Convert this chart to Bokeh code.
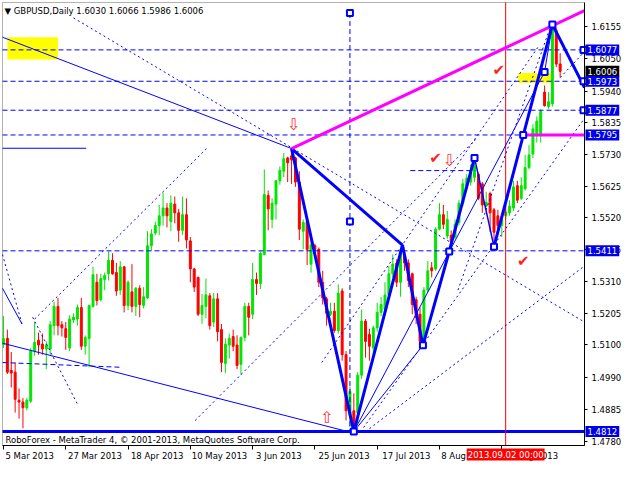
from bokeh.plotting import figure
from bokeh.models import (Range1d, LinearAxis, FixedTicker, Label, BoxAnnotation,
                          ColumnDataSource, PrintfTickFormatter)
from bokeh.embed import file_html
from bokeh.resources import INLINE
from bokeh.core.properties import value

FONT = "DejaVu Sans"

# ---------------- data (bar index = trading day from 5 Mar 2013) ----------------
opens = [1.5100,1.5121,1.5015,1.5009,1.4916,1.4910,1.4891,1.4913,1.5079,1.5115,
1.5102,1.5086,1.5086,1.5163,1.5227,1.5166,1.5153,1.5089,1.5182,1.5185,
1.5223,1.5095,1.5121,1.5227,1.5307,1.5249,1.5316,1.5335,1.5380,1.5339,
1.5281,1.5358,1.5230,1.5275,1.5227,1.5287,1.5230,1.5255,1.5428,1.5470,
1.5495,1.5527,1.5553,1.5508,1.5566,1.5537,1.5479,1.5531,1.5444,1.5351,
1.5323,1.5201,1.5227,1.5262,1.5175,1.5252,1.5150,1.5038,1.5099,1.5127,
1.5099,1.5035,1.5124,1.5227,1.5201,1.5316,1.5303,1.5399,1.5595,1.5515,
1.5566,1.5643,1.5675,1.5719,1.5726,1.5719,1.5639,1.5476,1.5508,1.5367,
1.5428,1.5416,1.5307,1.5252,1.5201,1.5211,1.5147,1.5278,1.5067,1.4865,
1.4881,1.4875,1.4999,1.5178,1.5134,1.5089,1.5156,1.5207,1.5217,1.5265,
1.5335,1.5371,1.5307,1.5399,1.5371,1.5335,1.5249,1.5201,1.5111,1.5281,
1.5355,1.5351,1.5483,1.5531,1.5460,1.5463,1.5457,1.5505,1.5569,1.5627,
1.5639,1.5655,1.5665,1.5633,1.5559,1.5601,1.5547,1.5527,1.5495,1.5527,
1.5537,1.5553,1.5627,1.5585,1.5617,1.5687,1.5732,1.5799,1.5799,1.5937,
1.5889,1.5898,1.6141,1.6030]
highs = [1.5195,1.5150,1.5076,1.5041,1.4955,1.4923,1.4923,1.5089,1.5175,1.5140,
1.5137,1.5111,1.5178,1.5243,1.5255,1.5178,1.5175,1.5198,1.5204,1.5233,
1.5255,1.5131,1.5233,1.5358,1.5335,1.5335,1.5339,1.5409,1.5403,1.5371,
1.5377,1.5361,1.5313,1.5367,1.5291,1.5297,1.5291,1.5476,1.5483,1.5508,
1.5563,1.5604,1.5569,1.5595,1.5591,1.5550,1.5591,1.5585,1.5457,1.5355,
1.5326,1.5268,1.5319,1.5271,1.5271,1.5271,1.5169,1.5121,1.5137,1.5150,
1.5131,1.5127,1.5239,1.5239,1.5371,1.5339,1.5409,1.5681,1.5611,1.5585,
1.5646,1.5691,1.5735,1.5723,1.5750,1.5723,1.5675,1.5515,1.5511,1.5463,
1.5435,1.5422,1.5345,1.5259,1.5239,1.5239,1.5300,1.5287,1.5079,1.4961,
1.4939,1.5009,1.5217,1.5185,1.5153,1.5163,1.5239,1.5259,1.5307,1.5361,
1.5399,1.5383,1.5422,1.5409,1.5383,1.5339,1.5259,1.5223,1.5291,1.5377,
1.5374,1.5489,1.5569,1.5563,1.5543,1.5479,1.5515,1.5579,1.5649,1.5665,
1.5697,1.5719,1.5670,1.5639,1.5607,1.5607,1.5553,1.5547,1.5527,1.5563,
1.5579,1.5643,1.5643,1.5655,1.5729,1.5761,1.5831,1.5857,1.5879,1.5959,
1.5937,1.6161,1.6151,1.6066]
lows = [1.5089,1.5003,1.4958,1.4875,1.4855,1.4823,1.4882,1.4907,1.5063,1.5067,
1.5067,1.5019,1.5067,1.5131,1.5131,1.5127,1.5083,1.5079,1.5172,1.5163,
1.5083,1.5067,1.5025,1.5223,1.5230,1.5243,1.5281,1.5313,1.5332,1.5262,
1.5265,1.5207,1.5214,1.5207,1.5195,1.5191,1.5220,1.5252,1.5412,1.5463,
1.5463,1.5495,1.5489,1.5476,1.5502,1.5441,1.5463,1.5419,1.5307,1.5275,
1.5195,1.5169,1.5188,1.5150,1.5159,1.5111,1.5009,1.5006,1.5054,1.5079,
1.5019,1.5000,1.5111,1.5131,1.5185,1.5265,1.5284,1.5396,1.5479,1.5486,
1.5515,1.5630,1.5655,1.5639,1.5633,1.5623,1.5447,1.5416,1.5364,1.5339,
1.5387,1.5291,1.5233,1.5163,1.5195,1.5140,1.5137,1.5047,1.4849,1.4827,
1.4812,1.4840,1.4987,1.5057,1.5047,1.5067,1.5143,1.5195,1.5201,1.5255,
1.5323,1.5291,1.5259,1.5345,1.5291,1.5201,1.5169,1.5105,1.5095,1.5275,
1.5323,1.5345,1.5479,1.5483,1.5451,1.5431,1.5451,1.5495,1.5559,1.5617,
1.5627,1.5639,1.5579,1.5537,1.5556,1.5473,1.5425,1.5473,1.5457,1.5515,
1.5527,1.5543,1.5569,1.5579,1.5611,1.5681,1.5719,1.5770,1.5770,1.5889,
1.5882,1.5889,1.6020,1.5986]
closes = [1.5120,1.5009,1.5006,1.4919,1.4910,1.4891,1.4916,1.5079,1.5108,1.5099,
1.5086,1.5099,1.5166,1.5227,1.5163,1.5156,1.5124,1.5185,1.5191,1.5223,
1.5095,1.5124,1.5230,1.5332,1.5246,1.5319,1.5329,1.5380,1.5335,1.5278,
1.5358,1.5230,1.5307,1.5227,1.5287,1.5233,1.5259,1.5428,1.5467,1.5495,
1.5527,1.5553,1.5527,1.5569,1.5537,1.5479,1.5531,1.5447,1.5351,1.5291,
1.5201,1.5230,1.5265,1.5163,1.5252,1.5143,1.5041,1.5102,1.5121,1.5095,
1.5031,1.5124,1.5227,1.5191,1.5316,1.5303,1.5403,1.5598,1.5550,1.5569,
1.5643,1.5678,1.5716,1.5703,1.5713,1.5639,1.5483,1.5505,1.5416,1.5431,
1.5416,1.5307,1.5255,1.5204,1.5211,1.5147,1.5271,1.5067,1.4881,1.4945,
1.4835,1.4999,1.5178,1.5111,1.5095,1.5156,1.5207,1.5233,1.5265,1.5335,
1.5367,1.5307,1.5409,1.5371,1.5313,1.5233,1.5191,1.5111,1.5281,1.5345,
1.5345,1.5483,1.5531,1.5499,1.5515,1.5441,1.5499,1.5569,1.5633,1.5652,
1.5675,1.5691,1.5585,1.5563,1.5572,1.5537,1.5473,1.5495,1.5515,1.5540,
1.5559,1.5623,1.5579,1.5627,1.5687,1.5729,1.5815,1.5841,1.5873,1.5892,
1.5905,1.6148,1.6030,1.6006]

date_ticks = [0, 16, 32, 48, 64, 80, 96, 112, 128]
date_labels = ["5 Mar 2013", "27 Mar 2013", "18 Apr 2013", "10 May 2013", "3 Jun 2013",
               "25 Jun 2013", "17 Jul 2013", "8 Aug 2013", "30 Aug 2013"]
price_ticks = [1.6155, 1.6050, 1.5940, 1.5835, 1.5730, 1.5625, 1.5520, 1.5415,
               1.5310, 1.5205, 1.5100, 1.4990, 1.4885, 1.4780]

title_text = "GBPUSD,Daily  1.6030 1.6066 1.5986 1.6006"
copyright_text = "RoboForex - MetaTrader 4, \u00a9 2001-2013, MetaQuotes Software Corp."

# analyst objects
level_prices = [1.6077, 1.5973, 1.5877, 1.5795, 1.5411]
support_price = 1.4812
marker_date = 129          # 2013.09.02 00:00
marker_date_text = "2013.09.02 00:00"
axis_tags = [(1.6077, "#0000e6"), (1.6006, "#000000"), (1.5973, "#0000e6"),
             (1.5877, "#0000e6"), (1.5795, "#0000e6"), (1.5411, "#0000e6"),
             (1.4812, "#0000e6")]

wave_x = [74, 90, 102.5, 107.75, 114.5, 121]
wave_y = [1.5750, 1.4812, 1.5430, 1.5098, 1.5409, 1.5719]
thick_x0 = [74, 126, 141]
thick_y0 = [1.5750, 1.5425, 1.6161]
thick_x1 = [102.5, 141, 149.25]
thick_y1 = [1.5430, 1.6161, 1.5952]

thin_x0 = [-0.25, 90, 90, 139, -0.25, -0.25, -0.25]
thin_y0 = [1.6119, 1.4812, 1.4812, 1.6004, 1.5105, 1.5751, 1.5287]
thin_x1 = [74, 107.75, 139, 141, 88.5, 21.25, 4.75]
thin_y1 = [1.5750, 1.5098, 1.6004, 1.6161, 1.4812, 1.5751, 1.5169]

dot_x0 = [18, 8, 49.25, 116.75, 91.75, 81.75, 93, 143, -0.25, 7.5]
dot_y0 = [1.6183, 1.5185, 1.4849, 1.5281, 1.4812, 1.5041, 1.4812, 1.5985, 1.5399, 1.5191]
dot_x1 = [149.25, 52.25, 121.75, 140.5, 149.25, 137.5, 149.25, 149.25, 4.75, 19.25]
dot_y1 = [1.5175, 1.5751, 1.5786, 1.6154, 1.5850, 1.6090, 1.5361, 1.6071, 1.5169, 1.4897]

dash_x0 = [-0.25, 104.5, 89]
dash_y0 = [1.5041, 1.5677, 1.6199]
dash_x1 = [30.5, 121, 89]
dash_y1 = [1.5025, 1.5677, 1.4812]

box_x = [90, 107.75, 114.5, 121, 126, 133.5, 139, 141, 89, 89, 149, 149, 149]
box_y = [1.4812, 1.5098, 1.5409, 1.5719, 1.5425, 1.5795, 1.6004, 1.6161, 1.6199, 1.5508,
         1.6077, 1.5973, 1.5877]

zone_left = [1, 132.25]
zone_right = [14, 140.75]
zone_top = [1.6119, 1.6000]
zone_bottom = [1.6045, 1.5968]

mag_x0 = [74, 133.5]
mag_y0 = [1.5750, 1.5795]
mag_x1 = [149.25, 149.25]
mag_y1 = [1.6207, 1.5795]

check_x = [127.25, 111, 133.5]
check_y = [1.6010, 1.5718, 1.5377]
arrow_x = [74.5, 114.5, 83]
arrow_y = [1.5831, 1.5709, 1.4858]
arrow_t = ["\u21e9", "\u21e9", "\u21e7"]

# ---------------- geometry ----------------
X0, X1 = -0.25, 149.25          # chart window (bars)
Y0, Y1 = 1.4766, 1.6234         # chart window (price)
W, H = 624, 464
PX_X = 582 / (X1 - X0)          # px per bar
PX_Y = 443 / (Y1 - Y0)          # px per price unit

p = figure(width=W, height=H,
           x_range=Range1d(X0 - 2 / PX_X, X0 - 2 / PX_X + W / PX_X),
           y_range=Range1d(Y0 - 19 / PX_Y, Y1 + 2 / PX_Y),
           output_backend="svg", toolbar_location=None,
           x_axis_location=None, y_axis_location=None,
           min_border_left=0, min_border_top=0, min_border_right=0,
           min_border_bottom=0, background_fill_color="white",
           border_fill_color="white")
p.outline_line_color = None
p.grid.grid_line_color = None

label_pos = [t + (len(l) * 4.9 / 2 + 2) / PX_X for t, l in zip(date_ticks, date_labels)]
label_pos = [round(v * 4) / 4 for v in label_pos]
xaxis = LinearAxis(ticker=FixedTicker(ticks=label_pos, minor_ticks=date_ticks),
                   major_label_overrides={t: l for t, l in zip(label_pos, date_labels)},
                   fixed_location=Y0, bounds=(X0, X1),
                   major_tick_line_color=None, major_tick_in=0, major_tick_out=4,
                   minor_tick_in=0, minor_tick_out=4, minor_tick_line_color="black",
                   axis_line_color="black",
                   major_label_text_font=FONT, major_label_text_font_size="8.5px",
                   major_label_text_color="black", major_label_standoff=1)
p.add_layout(xaxis, "below")

yaxis = LinearAxis(ticker=FixedTicker(ticks=price_ticks),
                   formatter=PrintfTickFormatter(format="%.4f"),
                   fixed_location=X1, bounds=(Y0, Y1),
                   major_tick_in=0, major_tick_out=3, minor_tick_line_color=None,
                   axis_line_color="black", major_tick_line_color="black",
                   major_label_text_font=FONT, major_label_text_font_size="8.5px",
                   major_label_text_color="black", major_label_standoff=4)
p.add_layout(yaxis, "right")

p.add_layout(BoxAnnotation(left=X0, right=X1, bottom=Y0, top=Y1, fill_color=None,
                           line_color="black", line_width=1, level="underlay"))

# yellow zones (background)
p.quad(left=zone_left, right=zone_right, top=zone_top, bottom=zone_bottom,
       fill_color="#ffff00", line_color=None)

# candles
n = len(opens)
idx = list(range(n))
col = ["#00e600" if c >= o else "#ff0000" for o, c in zip(opens, closes)]
src = ColumnDataSource(dict(x=idx, o=opens, h=highs, l=lows, c=closes,
                            top=[max(o, c) for o, c in zip(opens, closes)],
                            bot=[min(o, c) for o, c in zip(opens, closes)], col=col))
p.segment(x0="x", y0="l", x1="x", y1="h", line_color="col", line_width=1, source=src)
p.vbar(x="x", width=0.5, top="top", bottom="bot", fill_color="col", line_color="col",
       line_width=1, source=src)

# level lines
p.segment(x0=[X0] * len(level_prices), y0=level_prices, x1=[X1] * len(level_prices),
          y1=level_prices, line_color="#0000ff", line_dash="5 3", line_width=1)
p.segment(x0=[X0], y0=[support_price], x1=[X1], y1=[support_price],
          line_color="#0000ff", line_width=3)
p.segment(x0=[marker_date], y0=[Y0], x1=[marker_date], y1=[Y1],
          line_color="#ff0000", line_width=1)

# trend lines
p.segment(x0=dot_x0, y0=dot_y0, x1=dot_x1, y1=dot_y1, line_color="#0000ff",
          line_width=1, line_dash="2 3")
p.segment(x0=dash_x0, y0=dash_y0, x1=dash_x1, y1=dash_y1, line_color="#0000ff",
          line_width=1, line_dash="5 3")
p.segment(x0=thin_x0, y0=thin_y0, x1=thin_x1, y1=thin_y1, line_color="#0000ff",
          line_width=1)
p.segment(x0=[121], y0=[1.5719], x1=[126], y1=[1.5425], line_color="#0000ff", line_width=1.5)
p.line(wave_x, wave_y, line_color="#0000ff", line_width=3)
p.segment(x0=thick_x0, y0=thick_y0, x1=thick_x1, y1=thick_y1, line_color="#0000ff",
          line_width=3)
p.segment(x0=mag_x0, y0=mag_y0, x1=mag_x1, y1=mag_y1, line_color="#ff00ff", line_width=3)

p.scatter(box_x, box_y, marker="square", size=6, fill_color="white",
          line_color="#0000ff", line_width=2)

p.text(check_x, check_y, text=["\u2714"] * len(check_x), text_color="#ff2020",
       text_font=value(FONT), text_font_size="15px", text_align="center",
       text_baseline="middle")
p.text(arrow_x, arrow_y, text=arrow_t, text_color="#ff3030",
       text_font=value(FONT), text_font_size="16px", text_align="center",
       text_baseline="middle")

# price tags on the price scale
for pr, bg in axis_tags:
    p.add_layout(Label(x=X1, y=pr, x_offset=1, text=f"{pr:.4f}", text_font=FONT,
                       text_font_size="8.5px", text_color="white", text_align="left",
                       text_baseline="middle", background_fill_color=bg,
                       padding=2))

p.add_layout(Label(x=marker_date, y=10, y_units="screen", text=marker_date_text,
                   text_font=FONT, text_font_size="8.5px", text_color="white",
                   text_align="center", text_baseline="middle",
                   background_fill_color="#ff0000", padding=1))

p.add_layout(Label(x=4, y=H - 10, x_units="screen", y_units="screen",
                   text="\u25bc  " + title_text, text_font=FONT, text_font_size="8.5px",
                   text_color="black", text_baseline="middle"))
p.add_layout(Label(x=5, y=25, x_units="screen", y_units="screen",
                   text=copyright_text, text_font=FONT, text_font_size="8.5px",
                   text_color="black", text_baseline="middle"))

open("out.html", "w").write(file_html(p, INLINE))
